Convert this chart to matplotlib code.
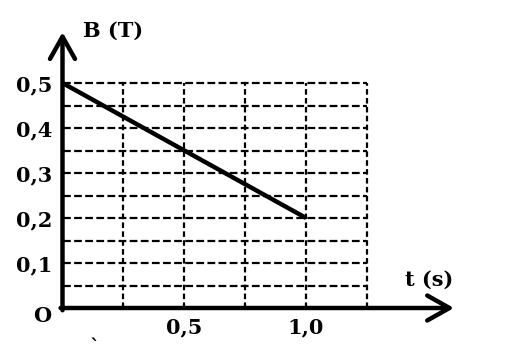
import matplotlib
matplotlib.use("Agg")
import matplotlib.pyplot as plt

# data
t_values = [0.0, 1.0]
B_values = [0.5, 0.2]
x_tick_values = [0.5, 1.0]
x_tick_labels = ["0,5", "1,0"]
y_tick_values = [0.1, 0.2, 0.3, 0.4, 0.5]
y_tick_labels = ["0,1", "0,2", "0,3", "0,4", "0,5"]
x_grid = [0.25, 0.5, 0.75, 1.0, 1.25]
y_grid = [0.05, 0.1, 0.15, 0.2, 0.25, 0.3, 0.35, 0.4, 0.45, 0.5]
x_label = "t (s)"
y_label = "B (T)"
origin_label = "O"

W, H = 516, 358
fig = plt.figure(figsize=(W / 100, H / 100), dpi=100)
ax = fig.add_axes([62.5 / W, (H - 308) / H, 304.5 / W, 225 / H])
ax.set_xlim(0, 1.25)
ax.set_ylim(0, 0.5)
for s in ax.spines.values():
    s.set_visible(False)

font = dict(family="DejaVu Serif", fontweight="bold", fontsize=15)

# grid
for yv in y_grid:
    ax.plot([0, 1.25], [yv, yv], color="black", lw=1.6, dashes=(3.5, 1.5),
            clip_on=False, zorder=1)
for xv in x_grid:
    ax.plot([xv, xv], [0, 0.5], color="black", lw=1.6, dashes=(2.5, 1.5),
            clip_on=False, zorder=1)

# data line
ax.plot(t_values, B_values, color="black", lw=3.2, solid_capstyle="butt",
        clip_on=False, zorder=3)

# axes arrows
arrow = dict(arrowstyle="->,head_length=0.8,head_width=0.45", lw=3.2,
             color="black", shrinkA=0, shrinkB=0, mutation_scale=20)
ax.annotate("", xy=(1.607, 0), xytext=(-0.008, 0), arrowprops=arrow,
            annotation_clip=False, zorder=4)
ax.annotate("", xy=(0, 0.613), xytext=(0, -0.005), arrowprops=arrow,
            annotation_clip=False, zorder=4)

# ticks
ax.set_xticks(x_tick_values, x_tick_labels)
ax.set_yticks(y_tick_values, y_tick_labels)
ax.tick_params(axis="both", length=0)
ax.tick_params(axis="x", pad=7)
ax.tick_params(axis="y", pad=7.5)
for lab in ax.get_xticklabels() + ax.get_yticklabels():
    lab.set_fontfamily("DejaVu Serif")
    lab.set_fontweight("bold")
    lab.set_fontsize(15)

# labels
ax.text(0.084, 0.602, y_label, ha="left", va="baseline", clip_on=False, **font)
ax.text(1.406, 0.049, x_label, ha="left", va="baseline", clip_on=False, **font)
ax.text(-0.084, -0.031, origin_label, ha="center", va="baseline",
        clip_on=False, **font)
ax.text(0.133, -0.109, "`", ha="center", va="bottom", clip_on=False,
        family="DejaVu Serif", fontweight="bold", fontsize=14)

fig.savefig("out.png", dpi=100)
